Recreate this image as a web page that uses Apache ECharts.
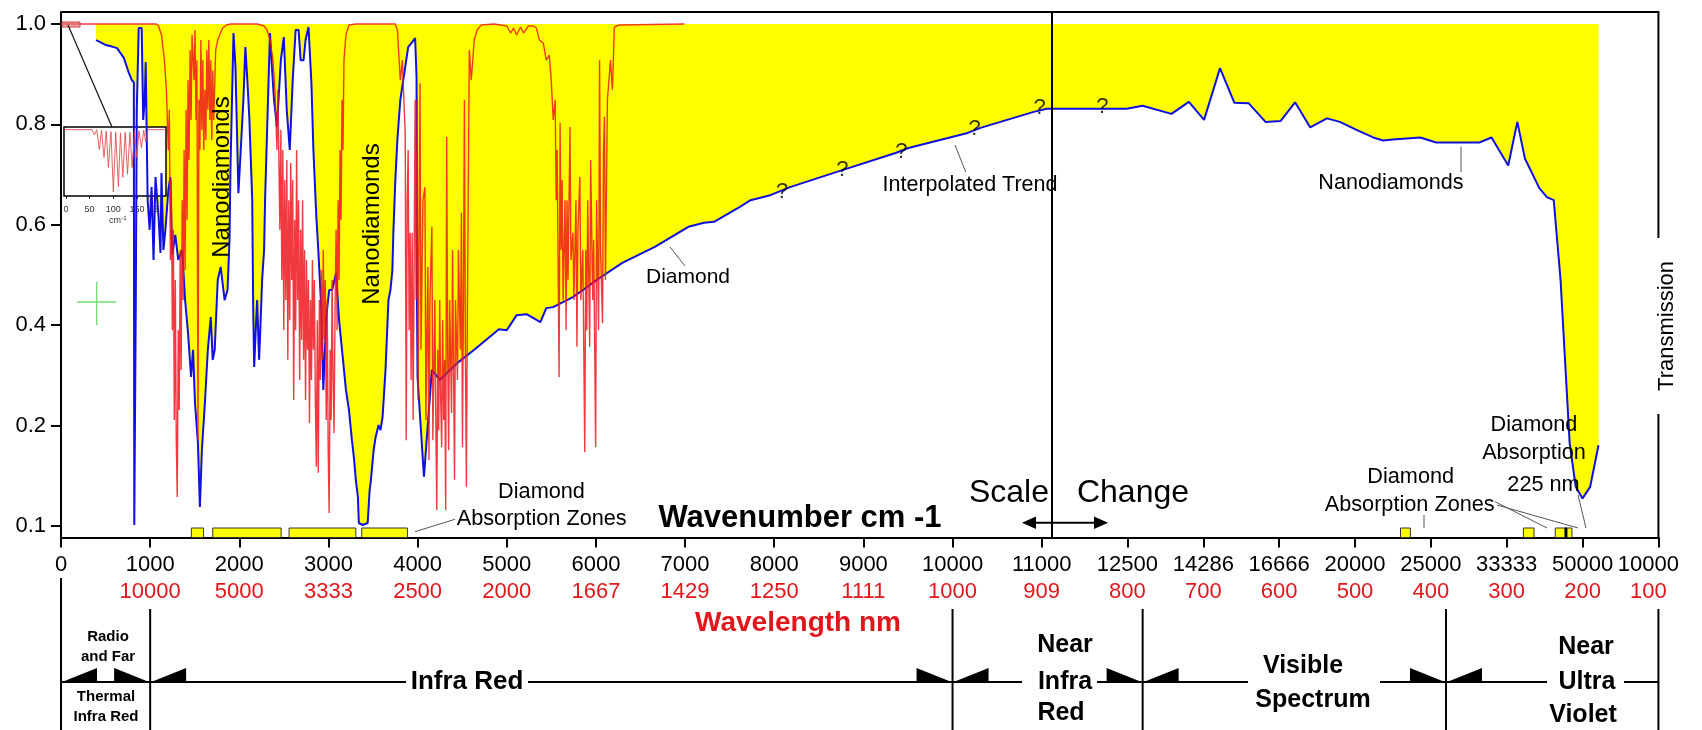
<!DOCTYPE html>
<html><head><meta charset="utf-8">
<script src="https://cdn.jsdelivr.net/npm/echarts@6/dist/echarts.min.js"></script>
<style>html,body{margin:0;padding:0;background:#fff}#c{width:1702px;height:730px}</style>
</head><body><div id="c"></div>
<script>
// ================= DATA =================
const wavenumberTicks = [0,1000,2000,3000,4000,5000,6000,7000,8000,9000,10000,11000,12500,14286,16666,20000,25000,33333,50000,100000];
const wavenumberLabels = ['0','1000','2000','3000','4000','5000','6000','7000','8000','9000','10000','11000','12500','14286','16666','20000','25000','33333','50000','10000'];
const wavelengthLabels = ['','10000','5000','3333','2500','2000','1667','1429','1250','1111','1000','909','800','700','600','500','400','300','200','100'];
const yTickValues = [0, 0.2, 0.4, 0.6, 0.8, 1.0];
const yTickLabels = ['0.1', '0.2', '0.4', '0.6', '0.8', '1.0'];

// Diamond transmission, infrared part: [wavenumber cm-1, transmission]
const diamondIR = [[393,0.968],[429,0.965],[504,0.958],[573,0.955],[629,0.952],[706,0.932],[762,0.902],[795,0.888],[817,0.884],[822,0.002],[839,0.450],[850,0.829],[872,0.992],[905,0.992],[922,0.809],[939,0.849],[950,0.924],[972,0.649],[994,0.590],[1016,0.675],[1038,0.530],[1060,0.695],[1094,0.616],[1116,0.544],[1127,0.703],[1149,0.550],[1171,0.590],[1204,0.669],[1226,0.695],[1248,0.540],[1282,0.580],[1315,0.530],[1359,0.550],[1392,0.450],[1425,0.384],[1459,0.297],[1481,0.351],[1503,0.245],[1536,0.165],[1558,0.038],[1580,0.151],[1614,0.245],[1647,0.351],[1680,0.416],[1702,0.331],[1724,0.351],[1758,0.490],[1791,0.516],[1835,0.450],[1868,0.470],[1890,0.570],[1901,0.715],[1935,0.982],[1957,0.914],[1990,0.663],[2012,0.735],[2046,0.849],[2068,0.954],[2090,0.888],[2112,0.815],[2145,0.649],[2156,0.430],[2167,0.317],[2189,0.410],[2200,0.450],[2222,0.331],[2234,0.384],[2256,0.490],[2278,0.550],[2289,0.649],[2311,0.783],[2344,0.982],[2366,0.914],[2389,0.849],[2422,0.795],[2466,0.928],[2499,0.974],[2532,0.829],[2566,0.749],[2599,0.888],[2632,0.988],[2665,0.988],[2688,0.928],[2721,0.928],[2743,0.968],[2776,0.994],[2809,0.882],[2831,0.749],[2864,0.616],[2886,0.550],[2920,0.430],[2942,0.271],[2975,0.416],[3008,0.470],[3041,0.470],[3086,0.504],[3119,0.410],[3163,0.331],[3196,0.271],[3230,0.231],[3263,0.171],[3285,0.137],[3307,0.092],[3330,0.058],[3341,0.006],[3385,0.002],[3440,0.006],[3462,0.072],[3473,0.086],[3507,0.151],[3529,0.177],[3562,0.201],[3584,0.191],[3607,0.217],[3640,0.311],[3673,0.450],[3695,0.470],[3717,0.510],[3728,0.584],[3750,0.689],[3773,0.769],[3806,0.849],[3861,0.914],[3894,0.954],[3939,0.964],[3972,0.972],[3988,0.894],[3993,0.450],[3999,0.297],[4071,0.098],[4160,0.311],[4248,0.291],[4447,0.325],[4635,0.351],[4912,0.392],[5000,0.390],[5111,0.420],[5222,0.422],[5377,0.406],[5443,0.434],[5520,0.436],[5742,0.456],[6041,0.494],[6296,0.524],[6661,0.556],[7037,0.596],[7214,0.604],[7325,0.606],[7591,0.633],[7735,0.649],[7956,0.659],[8177,0.675],[8763,0.709],[9361,0.743],[9505,0.753],[10169,0.783],[10313,0.793],[10911,0.825],[11055,0.831]];

// Diamond / nanodiamond transmission, visible-UV part: [wavelength nm, transmission]
const diamondUV = [[898,0.831],[842,0.831],[822,0.831],[801,0.831],[780,0.837],[742,0.821],[719,0.845],[699,0.809],[678,0.912],[659,0.843],[640,0.842],[618,0.805],[598,0.807],[579,0.844],[559,0.794],[537,0.812],[520,0.805],[498,0.789],[476,0.774],[463,0.768],[450,0.770],[414,0.774],[393,0.764],[336,0.764],[320,0.774],[298,0.718],[286,0.805],[276,0.732],[257,0.673],[247,0.655],[238,0.649],[229,0.490],[217,0.165],[209,0.078],[200,0.055],[190,0.078],[179,0.161]];

// Nanodiamond infrared spectrum: [wavenumber cm-1, transmission]
const nanodiamondIR = [[10,1.0],[1070,1.0],[1094,0.996],[1127,0.978],[1160,0.928],[1182,0.869],[1204,0.749],[1215,0.829],[1227,0.530],[1237,0.689],[1249,0.390],[1260,0.590],[1271,0.211],[1282,0.490],[1293,0.171],[1304,0.058],[1315,0.390],[1326,0.231],[1337,0.550],[1348,0.311],[1359,0.649],[1370,0.450],[1381,0.749],[1392,0.510],[1403,0.829],[1414,0.610],[1425,0.888],[1436,0.729],[1448,0.948],[1459,0.809],[1470,0.978],[1492,0.888],[1503,0.988],[1514,0.809],[1525,0.928],[1536,0.171],[1547,0.849],[1558,0.749],[1569,0.968],[1580,0.789],[1591,0.928],[1602,0.749],[1614,0.869],[1625,0.769],[1636,0.948],[1647,0.829],[1658,0.968],[1669,0.809],[1680,0.928],[1691,0.769],[1702,0.908],[1713,0.809],[1735,0.948],[1758,0.968],[1780,0.978],[1813,0.992],[1857,0.998],[1901,1.0],[2200,1.0],[2278,0.996],[2311,0.988],[2344,0.968],[2377,0.928],[2400,0.869],[2422,0.749],[2433,0.869],[2455,0.590],[2466,0.789],[2477,0.490],[2488,0.749],[2499,0.390],[2510,0.689],[2522,0.450],[2533,0.729],[2544,0.331],[2555,0.649],[2566,0.410],[2577,0.723],[2588,0.490],[2599,0.689],[2610,0.251],[2621,0.610],[2632,0.390],[2643,0.749],[2654,0.450],[2665,0.649],[2677,0.291],[2688,0.590],[2699,0.371],[2710,0.649],[2721,0.331],[2732,0.550],[2743,0.251],[2754,0.530],[2765,0.351],[2776,0.490],[2787,0.205],[2798,0.450],[2809,0.291],[2820,0.530],[2831,0.351],[2842,0.490],[2853,0.251],[2864,0.118],[2875,0.410],[2886,0.106],[2898,0.450],[2909,0.291],[2920,0.510],[2931,0.331],[2942,0.550],[2953,0.371],[2964,0.490],[2975,0.211],[2986,0.450],[2997,0.151],[3008,0.026],[3019,0.351],[3030,0.211],[3041,0.490],[3052,0.291],[3063,0.185],[3075,0.450],[3086,0.590],[3097,0.390],[3108,0.649],[3119,0.490],[3130,0.749],[3141,0.610],[3152,0.849],[3163,0.749],[3174,0.928],[3196,0.978],[3230,0.998],[3307,1.0],[3750,1.0],[3773,0.988],[3806,0.888],[3828,0.928],[3861,0.783],[3872,0.171],[3883,0.649],[3894,0.749],[3905,0.390],[3916,0.584],[3927,0.291],[3939,0.584],[3950,0.211],[3961,0.530],[3972,0.849],[3983,0.450],[3994,0.849],[4005,0.251],[4027,0.882],[4038,0.351],[4060,0.649],[4082,0.675],[4093,0.211],[4115,0.516],[4127,0.131],[4138,0.450],[4160,0.596],[4171,0.171],[4193,0.450],[4204,0.211],[4215,0.032],[4226,0.351],[4237,0.191],[4248,0.450],[4259,0.251],[4270,0.157],[4281,0.410],[4293,0.211],[4304,0.331],[4315,0.032],[4326,0.775],[4337,0.351],[4348,0.151],[4359,0.450],[4381,0.225],[4392,0.550],[4414,0.092],[4425,0.450],[4447,0.291],[4458,0.550],[4480,0.351],[4492,0.624],[4503,0.157],[4514,0.450],[4525,0.849],[4536,0.351],[4547,0.078],[4558,0.424],[4580,0.948],[4602,0.888],[4635,0.968],[4668,0.988],[4713,0.998],[4857,1.0],[5000,0.996],[5043,0.982],[5076,0.992],[5110,0.978],[5154,0.994],[5187,0.982],[5242,0.996],[5300,0.996],[5333,0.992],[5366,0.968],[5410,0.962],[5443,0.928],[5477,0.938],[5499,0.888],[5521,0.809],[5543,0.849],[5554,0.649],[5565,0.749],[5587,0.297],[5598,0.803],[5610,0.550],[5621,0.689],[5632,0.450],[5654,0.649],[5665,0.390],[5676,0.649],[5687,0.490],[5709,0.795],[5720,0.530],[5742,0.584],[5753,0.450],[5776,0.649],[5787,0.357],[5798,0.590],[5820,0.695],[5831,0.450],[5853,0.550],[5875,0.147],[5886,0.550],[5897,0.390],[5908,0.649],[5930,0.357],[5941,0.729],[5964,0.450],[5975,0.570],[5997,0.157],[6008,0.649],[6030,0.390],[6041,0.928],[6052,0.550],[6074,0.404],[6085,0.749],[6096,0.815],[6107,0.490],[6129,0.849],[6163,0.928],[6185,0.869],[6207,0.994],[6262,0.998],[6993,1.0]];

// "?" markers on the interpolated trend
const questionMarksIR = [[8089,0.665],[8763,0.709],[9427,0.745],[10247,0.791],[10978,0.833]];
const questionMarksUV = [[833,0.835]];

// Diamond absorption zones
const absorptionZonesIR = [[1462,1599],[1702,2469],[2558,3307],[3373,3886]]; // cm-1
const absorptionZonesUV = [[440,427],[278,264],[236,222],[222,214]];         // nm
const absorption225Marker = [223.2, 220.6];                                  // nm

// Inset (far infrared, 0-200 cm-1)
const insetTicks = [0, 50, 100, 150, 200];
const insetSpectrum = [[-3,1],[55,1],[60,0.92],[65,1],[70.6,0.70],[75,0.99],[80.4,0.58],[85,0.98],[89.5,0.43],[95,0.97],[100,0.06],[105,0.96],[110.7,0.14],[115,0.95],[120,0.28],[125,0.96],[129.8,0.33],[135,0.96],[139.6,0.43],[145,0.97],[149.5,0.58],[154,0.98],[159.3,0.73],[164,0.99],[168.5,0.82],[173,1],[211,1]];

// Spectrum band boundaries (cm-1)
const spectrumBandEdges = [0, 1000, 10000, 12821, 26316, 100000];

// ================= AXIS TRANSFORM (linear in cm-1 up to 900 nm, linear in nm beyond) =================
const BREAK_NM = 900;
const BREAK_U = 1e7 / BREAK_NM;
const U_PER_NM = 8.508;
const uFromNm = nm => BREAK_U + (BREAK_NM - nm) * U_PER_NM;
const uFromCm = k => (k <= BREAK_U ? k : uFromNm(1e7 / k));
const U_MAX = uFromNm(100);
const Y_MIN = -0.0229, Y_MAX = 1.0239;
const ZONE_TOP = -0.004;
const FILL_TOP = 1.0;

const diamondU = diamondIR.map(([k, t]) => [uFromCm(k), t]).concat(diamondUV.map(([n, t]) => [uFromNm(n), t]));
const nanoU = nanodiamondIR.map(([k, t]) => [uFromCm(k), t]);
const qU = questionMarksIR.map(([k, t]) => [uFromCm(k), t]).concat(questionMarksUV.map(([n, t]) => [uFromNm(n), t]));
const tickU = wavenumberTicks.map(uFromCm);

const zoneItem = (a, b, style) => {
  const s = { yAxis: Y_MIN, xAxis: a };
  if (style) s.itemStyle = style;
  return [s, { yAxis: ZONE_TOP, xAxis: b }];
};
const zones = absorptionZonesIR.map(([a, b]) => zoneItem(uFromCm(a), uFromCm(b)))
  .concat(absorptionZonesUV.map(([a, b]) => zoneItem(uFromNm(a), uFromNm(b))))
  .concat([zoneItem(uFromNm(absorption225Marker[0]), uFromNm(absorption225Marker[1]), { color: '#000', borderColor: '#000' })]);

// ================= CHART =================
const FF = '"Liberation Sans", Arial, sans-serif';
const RED = '#e3161c';
const chart = echarts.init(document.getElementById('c'), null, { renderer: 'canvas' });

const labelRich = {};
[['', 0], ['2', 20]].forEach(([s, p]) => {
  labelRich['k' + s] = { fontSize: 22, fontFamily: FF, color: '#000', lineHeight: 27, padding: [0, p, 0, 0] };
  labelRich['w' + s] = { fontSize: 22, fontFamily: FF, color: RED, lineHeight: 27, padding: [0, p, 0, 0] };
});

chart.setOption({
  animation: false,
  backgroundColor: '#fff',
  grid: [
    { left: 61, right: 21, top: 12, bottom: 192.5 },
    { left: 64, top: 127, width: 102, height: 69, show: true, backgroundColor: '#fff', borderColor: '#000', borderWidth: 1.5, z: 2 }
  ],
  xAxis: [
    {
      type: 'value', min: 0, max: U_MAX, gridIndex: 0,
      axisLine: { show: true, onZero: false, lineStyle: { color: '#000', width: 2 } },
      axisTick: { show: true, customValues: tickU, length: 10, lineStyle: { color: '#000', width: 2 } },
      axisLabel: {
        customValues: tickU, margin: 14, rich: labelRich, showMinLabel: true, showMaxLabel: true, hideOverlap: false,
        formatter: (val) => {
          const i = tickU.findIndex(t => Math.abs(t - val) < 0.5);
          if (i < 0) return '';
          const s = i === tickU.length - 1 ? '2' : '';
          const top = '{k' + s + '|' + wavenumberLabels[i] + '}';
          return wavelengthLabels[i] ? top + '\n{w' + s + '|' + wavelengthLabels[i] + '}' : top;
        }
      },
      splitLine: { show: false }
    },
    {
      type: 'value', min: -4, max: 211, gridIndex: 1,
      axisLine: { show: false },
      axisTick: { show: true, customValues: insetTicks, length: 3, lineStyle: { color: '#333' } },
      axisLabel: { customValues: insetTicks, fontSize: 9, fontFamily: FF, color: '#333', margin: 9, showMinLabel: true, showMaxLabel: true },
      splitLine: { show: false }
    }
  ],
  yAxis: [
    {
      type: 'value', min: Y_MIN, max: Y_MAX, gridIndex: 0,
      axisLine: { show: true, onZero: false, lineStyle: { color: '#000', width: 2 } },
      axisTick: { show: true, customValues: yTickValues, length: 10, lineStyle: { color: '#000', width: 2 } },
      axisLabel: {
        customValues: yTickValues, margin: 15, fontSize: 22, fontFamily: FF, color: '#000', showMinLabel: true, showMaxLabel: true,
        formatter: (v) => { const i = yTickValues.findIndex(t => Math.abs(t - v) < 1e-6); return i < 0 ? '' : yTickLabels[i]; }
      },
      splitLine: { show: false }
    },
    { type: 'value', min: 0, max: 1.04, gridIndex: 1, show: false }
  ],
  series: [
    {
      name: 'fill', type: 'custom', xAxisIndex: 0, yAxisIndex: 0, z: 1, silent: true,
      data: diamondU,
      renderItem: (params, api) => {
        if (params.dataIndex !== 0) return null;
        const pts = diamondU.map(p => api.coord(p));
        pts.push(api.coord([diamondU[diamondU.length - 1][0], FILL_TOP]));
        pts.push(api.coord([diamondU[0][0], FILL_TOP]));
        return { type: 'polygon', shape: { points: pts }, style: { fill: '#ffff00', stroke: null } };
      }
    },
    {
      name: 'Diamond', type: 'line', xAxisIndex: 0, yAxisIndex: 0, z: 3, data: diamondU,
      symbol: 'none', silent: true,
      lineStyle: { color: '#1010e0', width: 2 },
      markLine: {
        silent: true, symbol: 'none', label: { show: false },
        lineStyle: { color: '#000', width: 2, type: 'solid' },
        data: [{ xAxis: BREAK_U }]
      },
      markArea: {
        silent: true, label: { show: false },
        itemStyle: { color: '#ffff00', borderColor: '#333', borderWidth: 1 },
        data: zones
      }
    },
    {
      name: 'Nanodiamonds', type: 'line', xAxisIndex: 0, yAxisIndex: 0, z: 4, data: nanoU,
      symbol: 'none', silent: true,
      lineStyle: { color: 'rgba(238,24,30,0.85)', width: 1.4 }
    },
    {
      name: 'trend', type: 'scatter', xAxisIndex: 0, yAxisIndex: 0, z: 5, data: qU,
      symbolSize: 1, itemStyle: { color: 'rgba(0,0,0,0)' }, silent: true,
      label: { show: true, position: 'inside', formatter: '?', fontSize: 22, fontFamily: FF, color: '#000' }
    },
    {
      name: 'inset', type: 'line', xAxisIndex: 1, yAxisIndex: 1, z: 5, data: insetSpectrum,
      symbol: 'none', silent: true,
      lineStyle: { color: 'rgba(230,70,70,0.85)', width: 1 }
    }
  ]
});

// ================= DECORATIONS =================
const px = u => chart.convertToPixel({ xAxisIndex: 0 }, u);
const edgesPx = spectrumBandEdges.map(k => px(uFromCm(k)));
const g = [];
const line = (x1, y1, x2, y2, w, c) => g.push({ type: 'line', silent: true, z: 10, shape: { x1, y1, x2, y2 }, style: { stroke: c || '#000', lineWidth: w || 1 } });
const text = (t, x, y, size, opt) => {
  opt = opt || {};
  g.push({
    type: 'text', silent: true, z: 11, x, y, rotation: opt.rot || 0,
    style: { text: t, x: 0, y: 0, fontSize: size, fontWeight: opt.bold ? 'bold' : 'normal', fontFamily: FF, fill: opt.color || '#000', align: opt.align || 'center', verticalAlign: 'middle' }
  });
};
const poly = (pts, c) => g.push({ type: 'polygon', silent: true, z: 10, shape: { points: pts }, style: { fill: c || '#000' } });

// frame
const right = px(U_MAX);
line(61, 12, right + 1, 12, 2);
line(right, 12, right, 238, 2);
line(right, 414, right, 537.5, 2);

// inset connector and marker
g.push({ type: 'rect', silent: true, z: 10, shape: { x: 62, y: 22, width: 18, height: 5 }, style: { fill: 'rgba(230,110,110,0.6)', stroke: '#d04040', lineWidth: 1 } });
line(68, 25, 112, 127, 1.2, '#111');
text('cm', 115, 221, 9, { color: '#333' });
text('-1', 124, 218, 6, { color: '#333' });
// green crosshair
line(77, 302, 116, 302, 1.3, '#6fdc6f');
line(96.7, 282, 96.7, 325, 1.3, '#6fdc6f');

// annotations
text('Nanodiamonds', 222, 177, 24, { rot: Math.PI / 2 });
text('Nanodiamonds', 372, 224, 24, { rot: Math.PI / 2 });
text('Diamond', 688, 277, 21);
line(670, 247, 685, 266, 1, '#555');
text('Interpolated Trend', 970, 185, 21.5);
line(955, 145, 965.7, 172, 1, '#555');
text('Nanodiamonds', 1391, 183, 21.6);
line(1461, 146.7, 1461, 172, 1, '#555');
text('Diamond', 541.5, 492, 21.7);
text('Absorption Zones', 541.7, 519, 21.7);
line(415, 531.7, 455, 519.3, 1, '#555');
text('Diamond', 1410.7, 477, 21.7);
text('Absorption Zones', 1409.7, 505, 21.7);
line(1424, 515, 1424, 528, 1, '#555');
line(1495, 501.7, 1547, 528, 1, '#555');
line(1497, 505, 1578, 528, 1, '#555');
text('Diamond', 1534, 425, 21.7);
text('Absorption', 1534, 453.5, 21.7);
text('225 nm', 1543.5, 485, 21.7);
line(1578, 495, 1586, 528, 1, '#555');
text('Wavenumber cm -1', 800, 518, 31, { bold: true });
text('Scale', 1009, 493, 32);
text('Change', 1133, 493, 32);
line(1030, 522.7, 1100, 522.7, 2);
poly([[1022, 522.7], [1036, 516.5], [1036, 528.9]]);
poly([[1108, 522.7], [1094, 516.5], [1094, 528.9]]);
text('Wavelength nm', 798, 623, 28, { bold: true, color: RED });
text('Transmission', 1667, 326, 22, { rot: Math.PI / 2 });

// band diagram
const BAND_Y = 682, WEDGE_W = 35, WEDGE_H = 14;
edgesPx.forEach((x, i) => line(x, i === 0 ? 578 : 609, x, 730, 2));
[[edgesPx[0], 406], [528, 1022], [1097, 1248], [1380, 1547], [1624, edgesPx[edgesPx.length - 1]]].forEach(([a, b]) => line(a, BAND_Y, b, BAND_Y, 2));
for (let i = 0; i < edgesPx.length - 1; i++) {
  const a = edgesPx[i] + 1, b = edgesPx[i + 1] - 1;
  poly([[a, BAND_Y], [a + WEDGE_W, BAND_Y - WEDGE_H], [a + WEDGE_W, BAND_Y]]);
  if (i < edgesPx.length - 2) poly([[b, BAND_Y], [b - WEDGE_W, BAND_Y - WEDGE_H], [b - WEDGE_W, BAND_Y]]);
}
text('Radio', 108, 637, 15, { bold: true });
text('and Far', 108, 657, 15, { bold: true });
text('Thermal', 106, 697, 15, { bold: true });
text('Infra Red', 106, 717, 15, { bold: true });
text('Infra Red', 467, 682, 26, { bold: true });
text('Near', 1065, 645, 25, { bold: true });
text('Infra', 1065, 682, 25, { bold: true });
text('Red', 1061, 713, 25, { bold: true });
text('Visible', 1303, 666, 25, { bold: true });
text('Spectrum', 1313, 700, 25, { bold: true });
text('Near', 1586, 647, 25, { bold: true });
text('Ultra', 1587, 682, 25, { bold: true });
text('Violet', 1583, 715, 25, { bold: true });

chart.setOption({ graphic: { elements: g } });
</script>
</body></html>
